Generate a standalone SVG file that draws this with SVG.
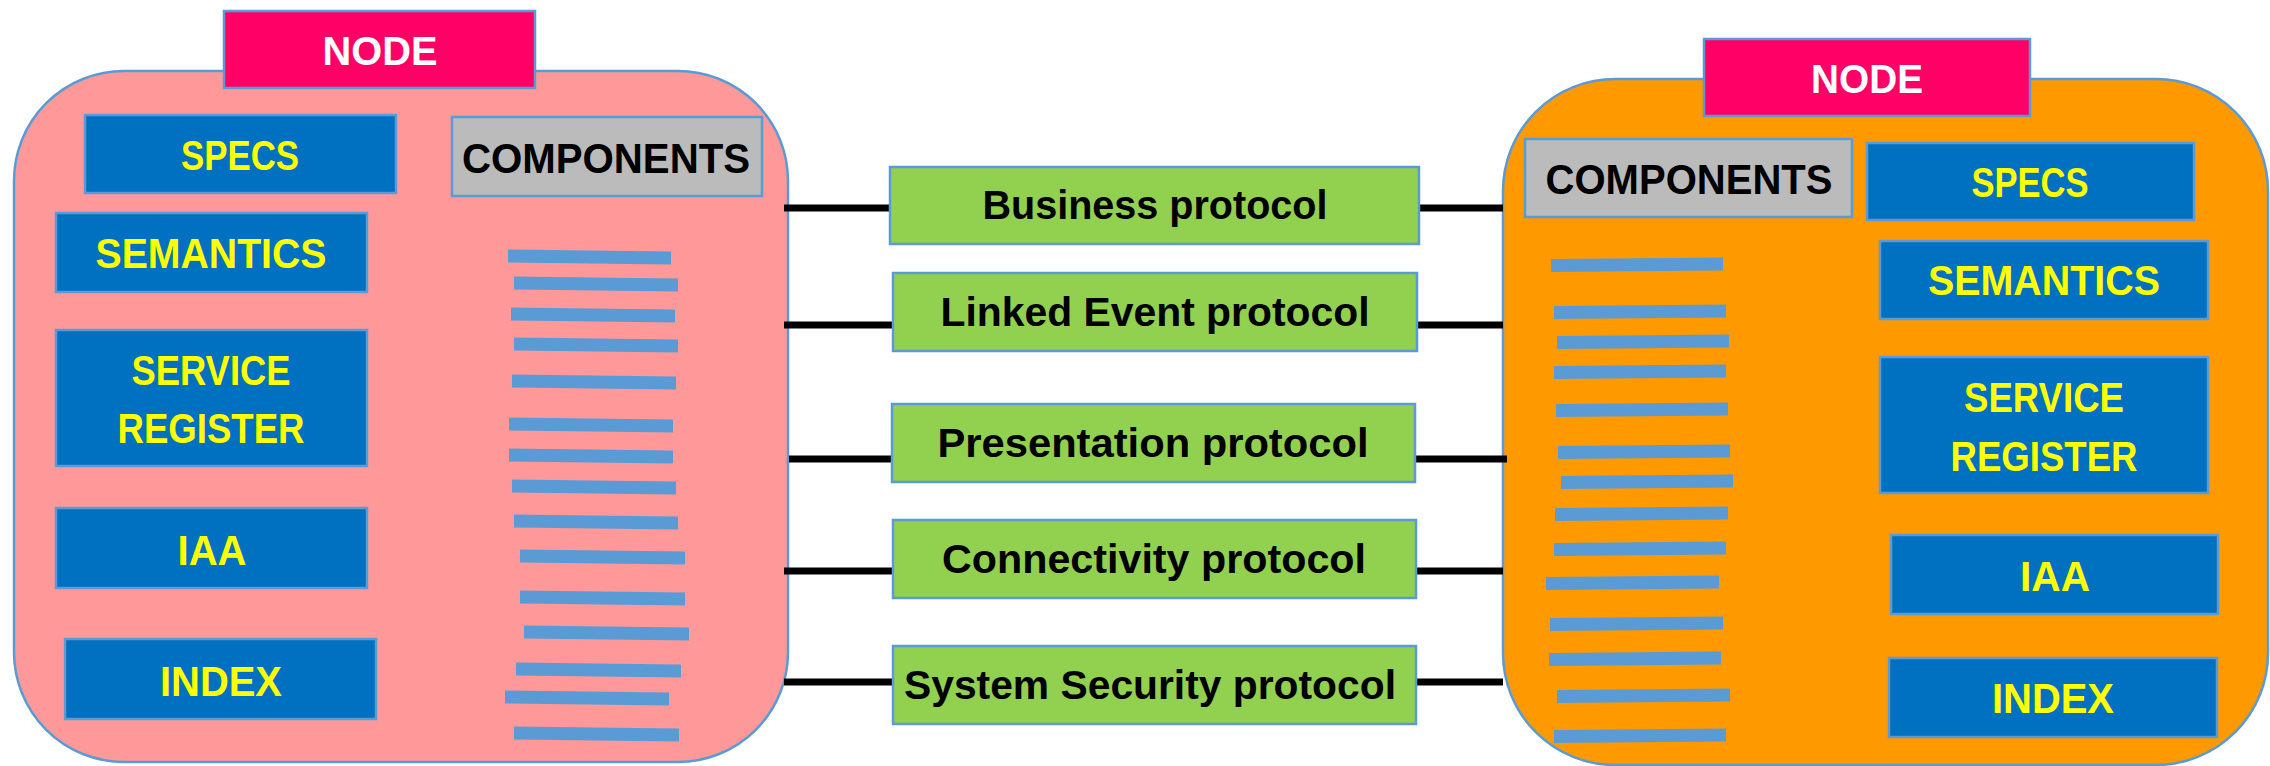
<svg xmlns="http://www.w3.org/2000/svg" width="2270" height="766" viewBox="0 0 2270 766">
<style>
.frame{stroke:#5B9BD5;stroke-width:2.5}
.pink{fill:#FF9999}
.orange{fill:#FF9900}
.hdr{fill:#FF0066;stroke:#5B9BD5;stroke-width:2.5}
.blue{fill:#0070C0;stroke:#5B9BD5;stroke-width:2.5}
.grey{fill:#BBBBBB;stroke:#5B9BD5;stroke-width:2.5}
.green{fill:#92D050;stroke:#5B9BD5;stroke-width:2.5}
.bar{fill:#5B9BD5}
text{font-family:"Liberation Sans",Arial,sans-serif;font-weight:bold;font-size:43px;text-anchor:middle}
.w{fill:#FFFFFF;font-size:40px}
.y{fill:#FFFF00}
.k{fill:#000000;font-size:42px}
.p{fill:#000000;font-size:40px}
.conn line{stroke:#000000;stroke-width:7}
</style>
<rect width="2270" height="766" fill="#FFFFFF"/>

<g id="node-left">
  <rect class="frame pink" x="14" y="71" width="774" height="691" rx="110" ry="110"/>
  <g id="left-components-bars">
    <polygon class="bar" points="508,249.5 671,251.5 671,264.5 508,262.5"/>
    <polygon class="bar" points="514,276.5 678,278.5 678,291.5 514,289.5"/>
    <polygon class="bar" points="511,307.5 675,309.5 675,322.5 511,320.5"/>
    <polygon class="bar" points="514,337.5 678,339.5 678,352.5 514,350.5"/>
    <polygon class="bar" points="512,374.5 676,376.5 676,389.5 512,387.5"/>
    <polygon class="bar" points="509,417.5 673,419.5 673,432.5 509,430.5"/>
    <polygon class="bar" points="509,448.5 673,450.5 673,463.5 509,461.5"/>
    <polygon class="bar" points="512,479.5 676,481.5 676,494.5 512,492.5"/>
    <polygon class="bar" points="514,514.5 678,516.5 678,529.5 514,527.5"/>
    <polygon class="bar" points="520,549.5 685,551.5 685,564.5 520,562.5"/>
    <polygon class="bar" points="520,590.5 685,592.5 685,605.5 520,603.5"/>
    <polygon class="bar" points="524,625.5 689,627.5 689,640.5 524,638.5"/>
    <polygon class="bar" points="516,662.5 681,664.5 681,677.5 516,675.5"/>
    <polygon class="bar" points="505,690.5 669,692.5 669,705.5 505,703.5"/>
    <polygon class="bar" points="514,726.5 679,728.5 679,741.5 514,739.5"/>
  </g>
  <g id="left-node-header">
    <rect class="hdr" x="224" y="11" width="311" height="77"/>
    <text class="w" x="380" y="65" textLength="115" lengthAdjust="spacingAndGlyphs">NODE</text>
  </g>
  <g id="left-specs">
    <rect class="blue" x="85" y="115" width="311" height="78"/>
    <text class="y" x="240" y="170" textLength="118" lengthAdjust="spacingAndGlyphs">SPECS</text>
  </g>
  <g id="left-components">
    <rect class="grey" x="452" y="117" width="310" height="79"/>
    <text class="k" x="606" y="173" textLength="288" lengthAdjust="spacingAndGlyphs">COMPONENTS</text>
  </g>
  <g id="left-semantics">
    <rect class="blue" x="56" y="213" width="311" height="79"/>
    <text class="y" x="211" y="268" textLength="231" lengthAdjust="spacingAndGlyphs">SEMANTICS</text>
  </g>
  <g id="left-service-register">
    <rect class="blue" x="56" y="330" width="311" height="136"/>
    <text class="y" x="211" y="385" textLength="159" lengthAdjust="spacingAndGlyphs">SERVICE</text>
    <text class="y" x="211" y="443" textLength="187" lengthAdjust="spacingAndGlyphs">REGISTER</text>
  </g>
  <g id="left-iaa">
    <rect class="blue" x="56" y="508" width="311" height="80"/>
    <text class="y" x="212" y="565" textLength="69" lengthAdjust="spacingAndGlyphs">IAA</text>
  </g>
  <g id="left-index">
    <rect class="blue" x="65" y="639" width="311" height="80"/>
    <text class="y" x="221" y="696" textLength="122" lengthAdjust="spacingAndGlyphs">INDEX</text>
  </g>
</g>

<g id="node-right">
  <rect class="frame orange" x="1503" y="79" width="765" height="686" rx="112" ry="112"/>
  <g id="right-components-bars">
    <polygon class="bar" points="1551,259 1723,257.5 1723,270.5 1551,272"/>
    <polygon class="bar" points="1554,306 1726,304.5 1726,317.5 1554,319"/>
    <polygon class="bar" points="1557,336 1729,334.5 1729,347.5 1557,349"/>
    <polygon class="bar" points="1554,366 1726,364.5 1726,377.5 1554,379"/>
    <polygon class="bar" points="1556,404 1728,402.5 1728,415.5 1556,417"/>
    <polygon class="bar" points="1558,446 1730,444.5 1730,457.5 1558,459"/>
    <polygon class="bar" points="1561,476 1733,474.5 1733,487.5 1561,489"/>
    <polygon class="bar" points="1555,508 1728,506.5 1728,519.5 1555,521"/>
    <polygon class="bar" points="1554,543 1726,541.5 1726,554.5 1554,556"/>
    <polygon class="bar" points="1546,577 1719,575.5 1719,588.5 1546,590"/>
    <polygon class="bar" points="1550,618 1723,616.5 1723,629.5 1550,631"/>
    <polygon class="bar" points="1549,653 1721,651.5 1721,664.5 1549,666"/>
    <polygon class="bar" points="1557,690 1730,688.5 1730,701.5 1557,703"/>
    <polygon class="bar" points="1554,730 1726,728.5 1726,741.5 1554,743"/>
  </g>
  <g id="right-node-header">
    <rect class="hdr" x="1704" y="39" width="326" height="77"/>
    <text class="w" x="1867" y="93" textLength="112" lengthAdjust="spacingAndGlyphs">NODE</text>
  </g>
  <g id="right-components">
    <rect class="grey" x="1525" y="139" width="327" height="78"/>
    <text class="k" x="1689" y="194" textLength="287" lengthAdjust="spacingAndGlyphs">COMPONENTS</text>
  </g>
  <g id="right-specs">
    <rect class="blue" x="1867" y="143" width="327" height="77"/>
    <text class="y" x="2030" y="197" textLength="117" lengthAdjust="spacingAndGlyphs">SPECS</text>
  </g>
  <g id="right-semantics">
    <rect class="blue" x="1880" y="241" width="328" height="78"/>
    <text class="y" x="2044" y="295" textLength="232" lengthAdjust="spacingAndGlyphs">SEMANTICS</text>
  </g>
  <g id="right-service-register">
    <rect class="blue" x="1880" y="357" width="328" height="136"/>
    <text class="y" x="2044" y="412" textLength="160" lengthAdjust="spacingAndGlyphs">SERVICE</text>
    <text class="y" x="2044" y="471" textLength="187" lengthAdjust="spacingAndGlyphs">REGISTER</text>
  </g>
  <g id="right-iaa">
    <rect class="blue" x="1891" y="535" width="327" height="79"/>
    <text class="y" x="2055" y="591" textLength="70" lengthAdjust="spacingAndGlyphs">IAA</text>
  </g>
  <g id="right-index">
    <rect class="blue" x="1889" y="658" width="328" height="79"/>
    <text class="y" x="2053" y="713" textLength="122" lengthAdjust="spacingAndGlyphs">INDEX</text>
  </g>
</g>

<g id="connectors" class="conn">
  <line x1="784" y1="208" x2="890" y2="208"/>
  <line x1="1419" y1="208" x2="1503" y2="208"/>
  <line x1="784" y1="325" x2="893" y2="325"/>
  <line x1="1417" y1="325" x2="1503" y2="325"/>
  <line x1="789" y1="459" x2="892" y2="459"/>
  <line x1="1415" y1="459" x2="1507" y2="459"/>
  <line x1="784" y1="571" x2="893" y2="571"/>
  <line x1="1416" y1="571" x2="1503" y2="571"/>
  <line x1="784" y1="682" x2="893" y2="682"/>
  <line x1="1416" y1="682" x2="1503" y2="682"/>
</g>

<g id="business-protocol">
  <rect class="green" x="890" y="167" width="529" height="77"/>
  <text class="p" x="1155" y="219" textLength="345" lengthAdjust="spacingAndGlyphs">Business protocol</text>
</g>
<g id="linked-event-protocol">
  <rect class="green" x="893" y="273" width="524" height="78"/>
  <text class="p" x="1155" y="326" textLength="429" lengthAdjust="spacingAndGlyphs">Linked Event protocol</text>
</g>
<g id="presentation-protocol">
  <rect class="green" x="892" y="404" width="523" height="78"/>
  <text class="p" x="1153" y="457" textLength="431" lengthAdjust="spacingAndGlyphs">Presentation protocol</text>
</g>
<g id="connectivity-protocol">
  <rect class="green" x="893" y="520" width="523" height="78"/>
  <text class="p" x="1154" y="573" textLength="424" lengthAdjust="spacingAndGlyphs">Connectivity protocol</text>
</g>
<g id="system-security-protocol">
  <rect class="green" x="893" y="646" width="523" height="78"/>
  <text class="p" x="1150" y="699" textLength="492" lengthAdjust="spacingAndGlyphs">System Security protocol</text>
</g>
</svg>
